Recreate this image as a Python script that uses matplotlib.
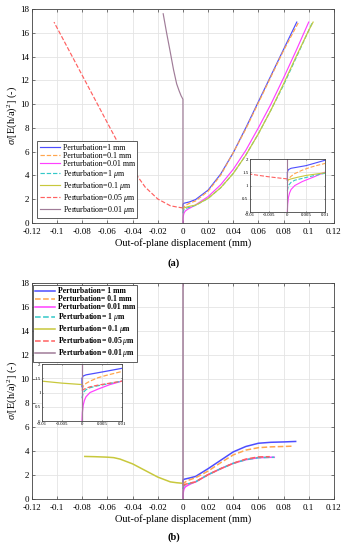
import matplotlib
matplotlib.use('Agg')
import matplotlib.pyplot as plt

plt.rcParams['font.family'] = ['Liberation Serif', 'DejaVu Serif']
plt.rcParams['mathtext.fontset'] = 'custom'
plt.rcParams['mathtext.rm'] = 'Liberation Serif'
plt.rcParams['mathtext.it'] = 'Liberation Serif:italic'
plt.rcParams['mathtext.bf'] = 'Liberation Serif:bold'

# ---- panel (a) data ----
blue_a_x = [0, 0, 0.0003, 0.001, 0.003, 0.005, 0.01, 0.02, 0.03, 0.04, 0.05, 0.06, 0.07, 0.08, 0.0905]
blue_a_y = [1.2, 1.5, 1.6, 1.65, 1.7, 1.75, 1.95, 2.75, 4.1, 5.9, 8.0, 10.2, 12.4, 14.6, 16.9]
orange_a_x = [0, 0.0003, 0.001, 0.002, 0.004, 0.006, 0.008, 0.01, 0.02, 0.03, 0.04, 0.05, 0.06, 0.07, 0.08, 0.092]
orange_a_y = [1.1, 1.25, 1.35, 1.45, 1.58, 1.68, 1.76, 1.83, 2.65, 4.0, 5.9, 7.9, 10.1, 12.3, 14.5, 16.9]
magenta_a_x = [0, 0.0001, 0.0003, 0.0006, 0.001, 0.002, 0.004, 0.007, 0.01, 0.02, 0.03, 0.04, 0.05, 0.06, 0.07, 0.08, 0.09, 0.1]
magenta_a_y = [0, 0.3, 0.55, 0.72, 0.85, 1.0, 1.15, 1.32, 1.5, 2.2, 3.2, 4.5, 6.1, 8.0, 10.0, 12.2, 14.5, 16.9]
cyan_a_x = [0, 0.0003, 0.001, 0.002, 0.004, 0.007, 0.01, 0.02, 0.03, 0.04, 0.05, 0.06, 0.07, 0.08, 0.09, 0.1, 0.103]
cyan_a_y = [0.8, 1.0, 1.12, 1.2, 1.27, 1.37, 1.46, 2.05, 2.95, 4.15, 5.7, 7.5, 9.5, 11.6, 13.9, 16.2, 16.9]
yellow_a_x = [0, 0.001, 0.003, 0.005, 0.01, 0.02, 0.03, 0.04, 0.05, 0.06, 0.07, 0.08, 0.09, 0.1, 0.1035]
yellow_a_y = [1.2, 1.25, 1.32, 1.38, 1.48, 2.05, 2.95, 4.15, 5.7, 7.5, 9.5, 11.7, 14.0, 16.2, 16.9]
red_a_x = [0, -0.002, -0.005, -0.01, -0.02, -0.03, -0.04, -0.05, -0.06, -0.07, -0.08, -0.09, -0.1025]
red_a_y = [1.25, 1.28, 1.33, 1.43, 2.0, 3.0, 4.5, 6.4, 8.4, 10.4, 12.4, 14.4, 16.9]
purple_a_x = [0, 0, -0.0005, -0.0015, -0.003, -0.005, -0.0075, -0.0103, -0.013, -0.0157]
purple_a_y = [0, 10.4, 10.5, 10.7, 11.1, 11.7, 12.9, 14.5, 16.0, 17.6]

# ---- panel (b) data ----
blue_b_x = [0, 0, 0.0003, 0.001, 0.003, 0.005, 0.01, 0.02, 0.03, 0.04, 0.05, 0.06, 0.07, 0.08, 0.0896]
blue_b_y = [1.2, 1.5, 1.58, 1.62, 1.67, 1.72, 1.85, 2.5, 3.2, 3.9, 4.35, 4.62, 4.7, 4.73, 4.77]
orange_b_x = [0, 0.0003, 0.001, 0.002, 0.004, 0.006, 0.008, 0.01, 0.02, 0.03, 0.04, 0.05, 0.06, 0.07, 0.08, 0.088]
orange_b_y = [1.1, 1.22, 1.32, 1.4, 1.52, 1.6, 1.67, 1.74, 2.3, 3.0, 3.65, 4.05, 4.25, 4.32, 4.35, 4.38]
magenta_b_x = [0, 0.0001, 0.0003, 0.0006, 0.001, 0.002, 0.004, 0.007, 0.01, 0.02, 0.03, 0.04, 0.05, 0.06, 0.07, 0.0726]
magenta_b_y = [0, 0.3, 0.55, 0.72, 0.85, 1.0, 1.12, 1.28, 1.4, 2.0, 2.5, 2.95, 3.25, 3.42, 3.45, 3.45]
cyan_b_x = [0, 0.0003, 0.001, 0.002, 0.004, 0.007, 0.01, 0.02, 0.03, 0.04, 0.05, 0.06, 0.07, 0.0726]
cyan_b_y = [0.8, 1.0, 1.1, 1.17, 1.24, 1.32, 1.4, 2.0, 2.5, 2.95, 3.25, 3.42, 3.45, 3.45]
yellow_b_x = [0, -0.002, -0.005, -0.01, -0.02, -0.03, -0.04, -0.05, -0.055, -0.06, -0.07, -0.078]
yellow_b_y = [1.28, 1.3, 1.33, 1.4, 1.8, 2.35, 2.9, 3.3, 3.42, 3.46, 3.5, 3.52]
red_b_x = [0, 0.0003, 0.001, 0.002, 0.004, 0.007, 0.01, 0.02, 0.03, 0.04, 0.05, 0.06, 0.069]
red_b_y = [1.05, 1.1, 1.15, 1.2, 1.26, 1.33, 1.4, 2.0, 2.5, 2.95, 3.3, 3.48, 3.5]
purple_b_x = [0, 0]
purple_b_y = [0, 18]

labels_a = ['Perturbation=1 mm', 'Perturbation=0.1 mm', 'Perturbation=0.01 mm',
            r'Perturbation=1 $\mu$m', r'Perturbation=0.1 $\mu$m',
            r'Perturbation=0.05 $\mu$m', r'Perturbation=0.01 $\mu$m']
labels_b = [s.replace('=', '= ') for s in labels_a]

colors = ['#4d4dff', '#ffa64d', '#ff40ff', '#33c8c8', '#c8c83c', '#ff6060', '#a07c98']
styles = ['-', '--', '-', '--', '-', '--', '-']

xticks = [-0.12, -0.1, -0.08, -0.06, -0.04, -0.02, 0, 0.02, 0.04, 0.06, 0.08, 0.1, 0.12]
xticklabels = ['-0.12', '-0.1', '-0.08', '-0.06', '-0.04', '-0.02', '0', '0.02', '0.04',
               '0.06', '0.08', '0.1', '0.12']
yticks = [0, 2, 4, 6, 8, 10, 12, 14, 16, 18]
in_xticks = [-0.01, -0.005, 0, 0.005, 0.01]
in_xticklabels = ['-0.01', '-0.005', '0', '0.005', '0.01']
in_yticks = [0, 0.5, 1, 1.5, 2]
in_yticklabels = ['0', '0.5', '1', '1.5', '2']


def style_axes(ax, fs):
    ax.grid(True, color='#e4e4e4', lw=0.6)
    ax.set_axisbelow(True)
    ax.tick_params(direction='in', top=True, right=True, labelsize=fs,
                   length=2, width=0.5, color='#444444', pad=2)
    for sp in ax.spines.values():
        sp.set_color('#444444')
        sp.set_linewidth(0.6)


def draw_series(ax, series, lw, labels=None):
    handles = []
    for i, (xs, ys) in enumerate(series):
        h, = ax.plot(xs, ys, color=colors[i], ls=styles[i], lw=lw,
                     label=labels[i] if labels else None)
        handles.append(h)
    return handles


def main_axes(ax):
    ax.set_xlim(-0.12, 0.12)
    ax.set_ylim(0, 18)
    ax.set_xticks(xticks)
    ax.set_xticklabels(xticklabels)
    ax.set_yticks(yticks)
    style_axes(ax, 6.5)
    ax.tick_params(axis='x', pad=3.5)
    ax.set_xlabel('Out-of-plane displacement (mm)', fontsize=7.5, labelpad=2)
    ax.set_ylabel(r'$\sigma$/[E(h/a)$^2$] (-)', fontsize=7.5, labelpad=1)


def inset_axes(ax):
    ax.set_xlim(-0.01, 0.01)
    ax.set_ylim(0, 2)
    ax.set_xticks(in_xticks)
    ax.set_xticklabels(in_xticklabels)
    ax.set_yticks(in_yticks)
    ax.set_yticklabels(in_yticklabels)
    style_axes(ax, 3.5)
    ax.tick_params(length=1, pad=1)


fig = plt.figure(figsize=(3.47, 5.5), dpi=100)

# ---------- (a) ----------
series_a = [(blue_a_x, blue_a_y), (orange_a_x, orange_a_y), (magenta_a_x, magenta_a_y),
            (cyan_a_x, cyan_a_y), (yellow_a_x, yellow_a_y), (red_a_x, red_a_y),
            (purple_a_x, purple_a_y)]
ax1 = fig.add_axes([0.0922, 0.595, 0.870, 0.3886])
draw_series(ax1, series_a, 0.85, labels_a)
main_axes(ax1)
leg = ax1.legend(loc='lower left', bbox_to_anchor=(0.017, 0.022), borderaxespad=0,
                 fontsize=5.8, labelspacing=0.0, handlelength=2.6, handletextpad=0.3,
                 handleheight=0.5, borderpad=0.3, fancybox=False,
                 edgecolor='#444444', framealpha=1)
leg.get_frame().set_linewidth(0.6)

ins1 = fig.add_axes([0.720, 0.6145, 0.216, 0.0964])
draw_series(ins1, series_a, 0.8)
inset_axes(ins1)

fig.text(0.5, 0.522, '(a)', ha='center', va='center', fontsize=7.5, fontweight='bold')

# ---------- (b) ----------
series_b = [(blue_b_x, blue_b_y), (orange_b_x, orange_b_y), (magenta_b_x, magenta_b_y),
            (cyan_b_x, cyan_b_y), (yellow_b_x, yellow_b_y), (red_b_x, red_b_y),
            (purple_b_x, purple_b_y)]
ax2 = fig.add_axes([0.0922, 0.0933, 0.870, 0.3927])
draw_series(ax2, series_b, 1.1, labels_b)
main_axes(ax2)
leg2 = ax2.legend(loc='upper left', bbox_to_anchor=(0.003, 0.99), borderaxespad=0,
                  prop={'size': 5.6, 'weight': 'bold'}, labelspacing=0.0,
                  handlelength=2.6, handletextpad=0.3, handleheight=0.5,
                  borderpad=0.3, fancybox=False, edgecolor='#444444', framealpha=1)
leg2.get_frame().set_linewidth(0.6)

ins2 = fig.add_axes([0.121, 0.2345, 0.2305, 0.1036])
draw_series(ins2, series_b, 0.9)
inset_axes(ins2)

fig.text(0.5, 0.0236, '(b)', ha='center', va='center', fontsize=7.5, fontweight='bold')

fig.savefig('out.png', dpi=100, facecolor='white')
